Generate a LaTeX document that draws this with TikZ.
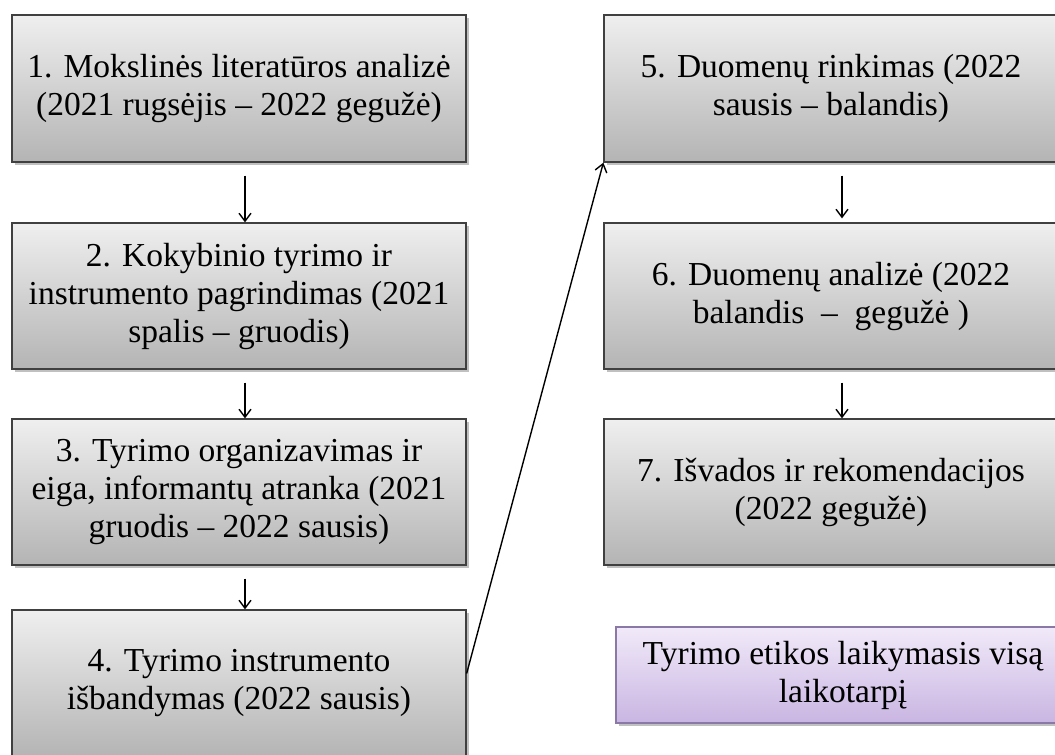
\documentclass[tikz,border=0pt]{standalone}
\usepackage{fontspec}
\setmainfont{Liberation Serif}
\usetikzlibrary{arrows.meta,shadows}
\definecolor{gtop}{HTML}{EFEFEF}
\definecolor{gbot}{HTML}{B4B4B4}
\definecolor{ptop}{HTML}{F1EAF9}
\definecolor{pbot}{HTML}{C9B5E2}
\definecolor{pdraw}{HTML}{8A78A6}
\tikzset{
  graybox/.style={draw=black!75, line width=1.3pt, top color=gtop, bottom color=gbot,
    minimum width=454pt, minimum height=147pt, align=center, inner sep=0pt,
    font=\fontsize{33.5}{38}\selectfont,
    drop shadow={shadow xshift=2.5pt, shadow yshift=-2.5pt, opacity=0.35, fill=black!70}},
  purplebox/.style={draw=pdraw, line width=1.1pt, top color=ptop, bottom color=pbot,
    minimum width=454pt, minimum height=96pt, align=center, inner sep=0pt,
    font=\fontsize{33.5}{38}\selectfont,
    drop shadow={shadow xshift=2.5pt, shadow yshift=-2.5pt, opacity=0.35, fill=black!70}},
  arr/.style={line width=1.4pt, -{Straight Barb[length=8pt,width=12pt,line width=1.4pt]}}
}
\begin{document}
\begin{tikzpicture}[x=1pt,y=-1pt]
\useasboundingbox[fill=white] (0,0) rectangle (1055,755);
\node[graybox] (b1) at (239,88.5) {1. Mokslinės literatūros analizė\\(2021 rugsėjis – 2022 gegužė)};
\node[graybox, minimum height=146pt] (b2) at (239,296) {2. Kokybinio tyrimo ir\\instrumento pagrindimas (2021\\spalis – gruodis)};
\node[graybox, minimum height=146pt] (b3) at (239,492) {3. Tyrimo organizavimas ir\\eiga, informantų atranka (2021\\gruodis – 2022 sausis)};
\node[graybox] (b4) at (239,683.5) {4. Tyrimo instrumento\\išbandymas (2022 sausis)};
\node[graybox] (b5) at (831,88.5) {5. Duomenų rinkimas (2022\\sausis – balandis)};
\node[graybox, minimum height=146pt] (b6) at (831,296) {6. Duomenų analizė (2022\\balandis ~–~ gegužė )};
\node[graybox, minimum height=146pt] (b7) at (831,492) {7. Išvados ir rekomendacijos\\(2022 gegužė)};
\node[purplebox] (b8) at (843,675) {Tyrimo etikos laikymasis visą\\laikotarpį};
\draw[arr] ([xshift=6pt,yshift=-13pt]b1.south) -- ([xshift=6pt]b2.north);
\draw[arr] ([xshift=6pt,yshift=-13pt]b2.south) -- ([xshift=6pt]b3.north);
\draw[arr] ([xshift=6pt,yshift=-13pt]b3.south) -- ([xshift=6pt]b4.north);
\draw[arr] ([xshift=11pt,yshift=-13pt]b5.south) -- ([xshift=11pt,yshift=4pt]b6.north);
\draw[arr] ([xshift=11pt,yshift=-13pt]b6.south) -- ([xshift=11pt]b7.north);
\draw[arr] ([yshift=10pt]b4.east) -- (b5.south west);
\end{tikzpicture}
\end{document}
